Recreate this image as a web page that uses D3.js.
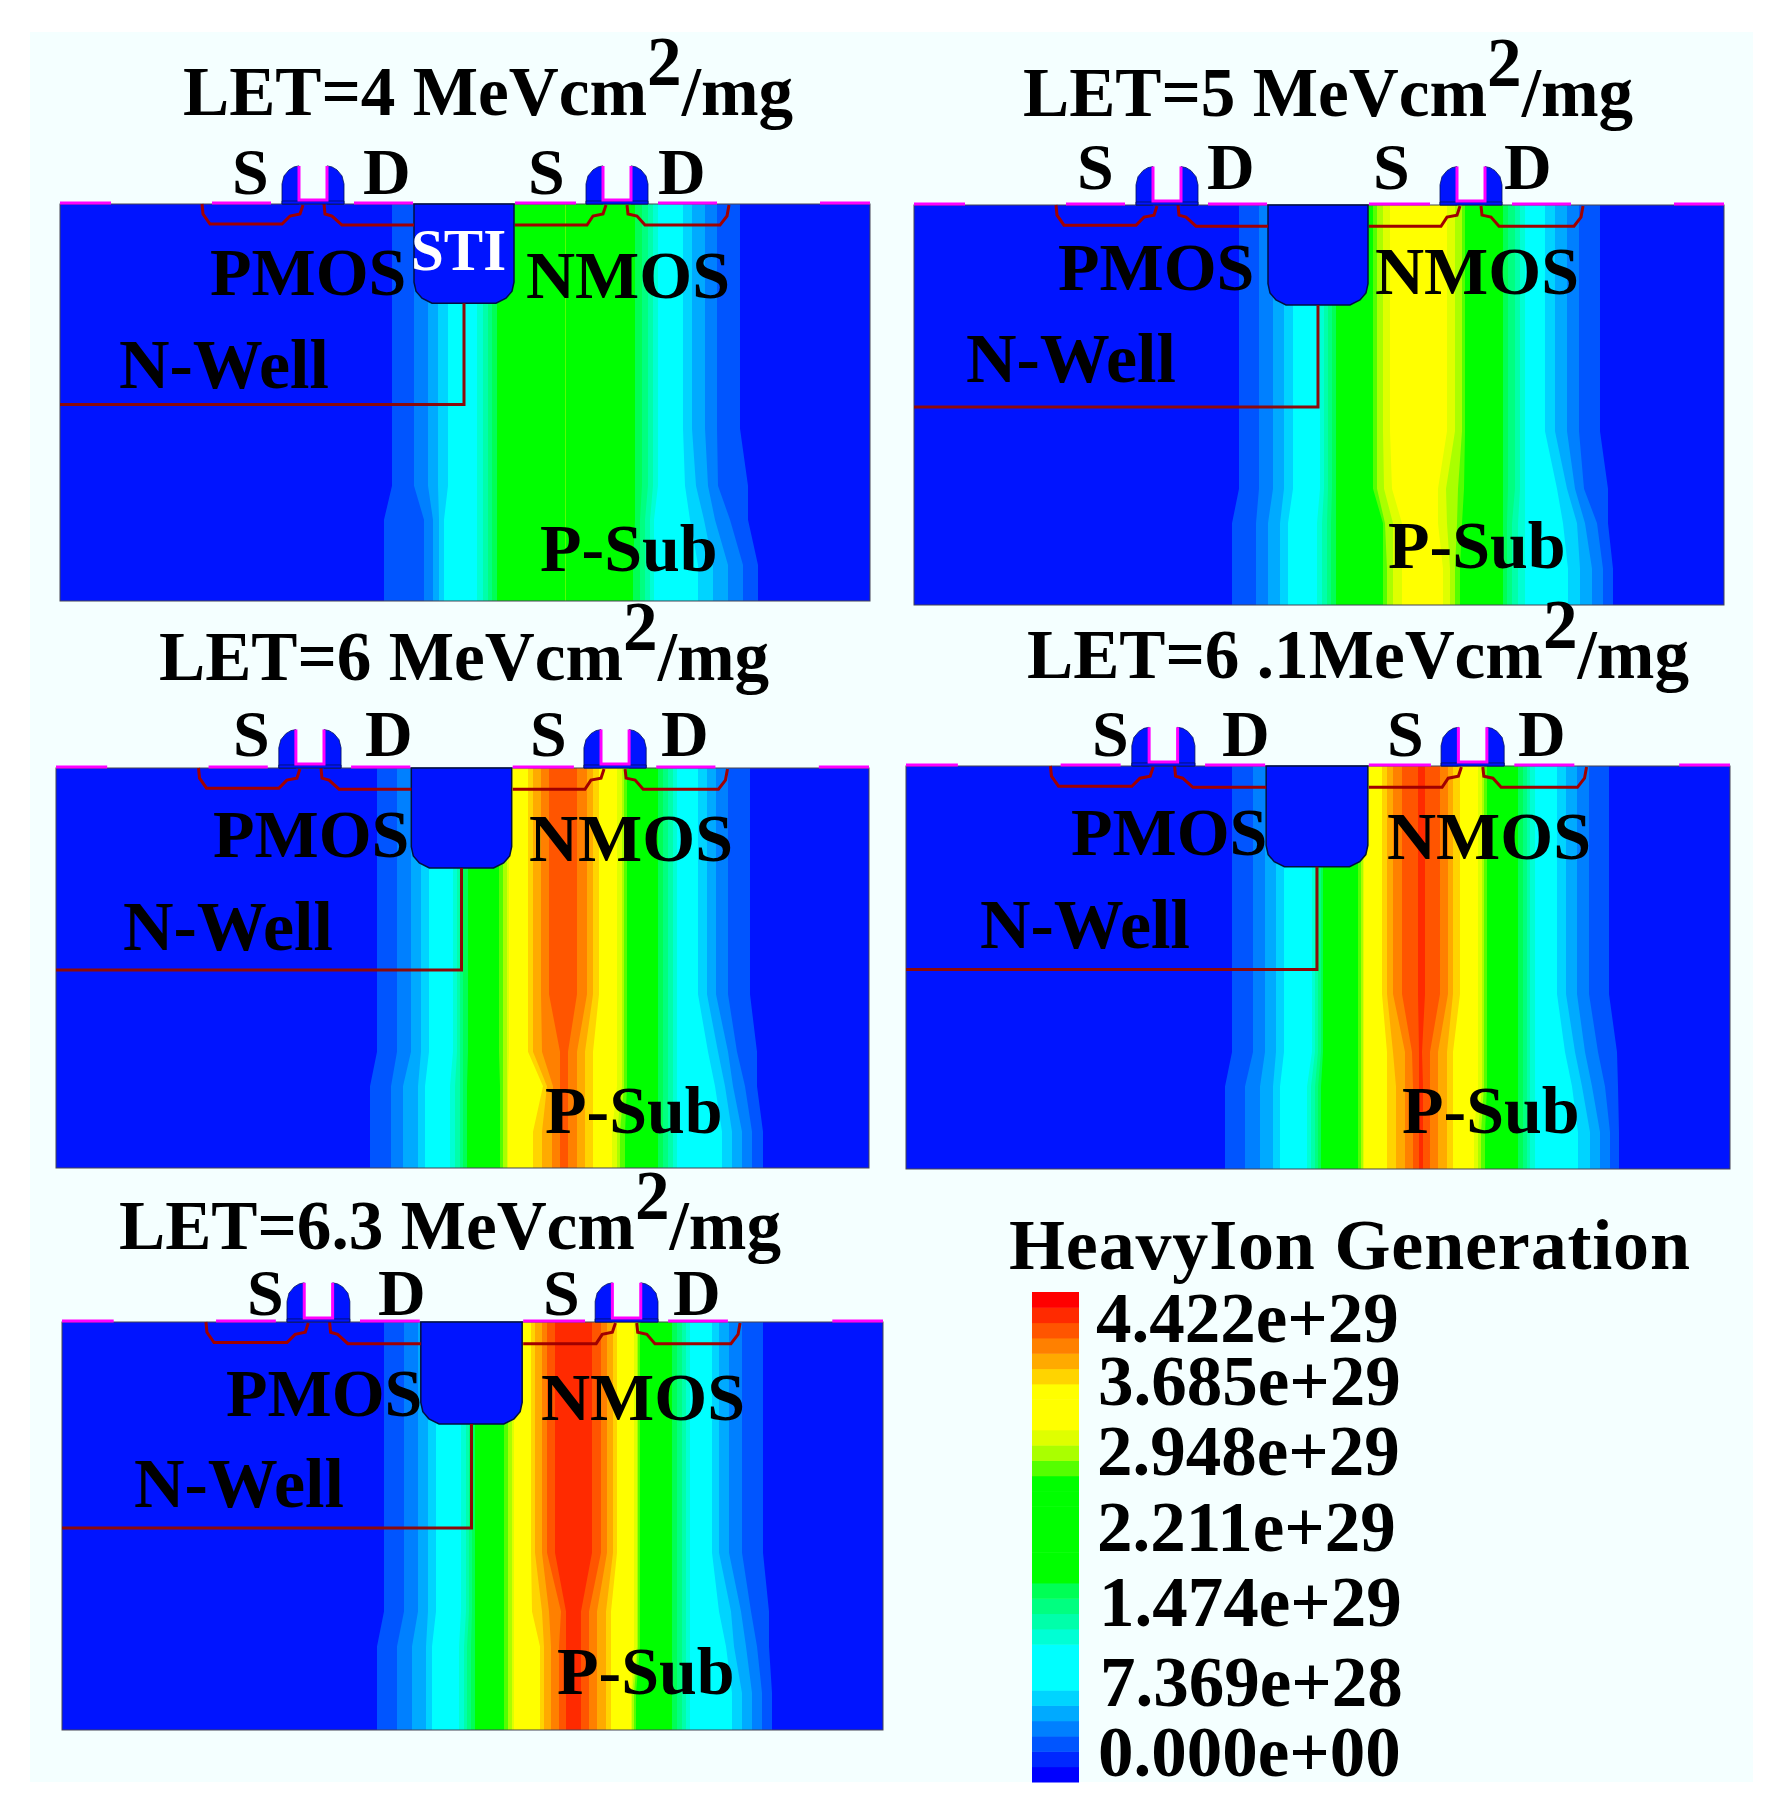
<!DOCTYPE html>
<html>
<head>
<meta charset="utf-8">
<title>HeavyIon Generation</title>
<script src="https://cdn.jsdelivr.net/npm/d3@7"></script>
<style>
    html, body { margin: 0; padding: 0; background: #fff; }
    svg { display: block; }
    text { font-family: "Liberation Serif", serif; font-weight: bold; fill: #000; }
</style>
</head>
<body>
<div id="chart"></div>
<script>
// 32 colour levels of the legend, lowest value first
var levelColors = ["#0000ff", "#0028ff", "#0055ff", "#0080ff", "#00aaff", "#00d4ff",
    "#00ffff", "#00ffff", "#00ffff", "#00ffd4", "#00ffaa", "#00ff80", "#00ff55",
    "#00ff00", "#00ff00", "#00ff00", "#00ff00", "#00ff00", "#00ff00", "#00ff00",
    "#55ff00", "#aaff00", "#dfff00", "#ffff00", "#ffff00", "#ffff00",
    "#ffd400", "#ffaa00", "#ff8000", "#ff5500", "#ff2a00", "#ff0000"];
var baseBlue = "#0014ff";

var tickLabels = ["4.422e+29", "3.685e+29", "2.948e+29", "2.211e+29", "1.474e+29", "7.369e+28", "0.000e+00"];
var legendTitle = "HeavyIon Generation";
var titleLead = ["LET=4 MeVcm", "LET=5 MeVcm", "LET=6 MeVcm", "LET=6 .1MeVcm", "LET=6.3 MeVcm"];

// depth (device units) of the rows where the contour edges were read
var depthKnots = [0, 224, 281, 315, 360, 396];

// contour levels left to right, and their edges along each row (distance from the panel's left side)
var let4Levels = [2, 3, 4, 5, 6, 9, 10, 11, 12, 13, 20, 13, 12, 11, 10, 9, 6, 5, 4, 3, 2];
var let4Mid = [332, 354, 368, 378, 388, 417, 423, 428, 432, 437, 505, 506, 575, 582, 588, 593, 598, 623, 632, 645, 657, 680];
var let4Knee = [332, 354, 368, 378, 388, 417, 423, 428, 432, 437, 505, 506, 575, 582, 588, 593, 598, 625, 636, 648, 658, 688];
var let4Turn = [324, 364, 373, 379, 384, 417, 423, 428, 432, 437, 505, 506, 575, 580, 585, 590, 594, 630, 644, 655, 670, 688];
var let4Low = [324, 364, 373, 379, 384, 417, 423, 428, 432, 437, 505, 506, 573, 580, 585, 590, 594, 638, 653, 668, 683, 698];

var let5Levels = [2, 3, 4, 5, 6, 9, 10, 11, 12, 13, 20, 21, 22, 23, 22, 21, 20, 13, 12, 11, 10, 9, 6, 5, 4, 3, 2];
var let5Mid = [325, 345, 359, 370, 379, 406, 410, 414, 418, 422, 459, 463, 469, 476, 533, 541, 548, 551, 589, 594, 601, 606, 611, 631, 641, 653, 665, 686];
var let5Knee = [325, 345, 359, 370, 379, 406, 410, 414, 418, 422, 459, 463, 470, 478, 524, 532, 544, 550, 589, 594, 601, 606, 611, 643, 653, 661, 670, 694];
var let5Turn = [318, 342, 354, 366, 374, 403, 408, 413, 417, 422, 469, 471, 479, 488, 524, 533, 543, 548, 589, 593, 598, 604, 611, 649, 663, 671, 683, 694];
var let5Low = [318, 342, 354, 366, 374, 403, 408, 413, 417, 422, 469, 473, 479, 488, 529, 536, 541, 546, 589, 593, 598, 604, 611, 654, 666, 678, 689, 699];

var let6Levels = [2, 3, 4, 5, 6, 9, 10, 11, 12, 13, 20, 21, 22, 23, 26, 27, 28, 29, 28, 27, 26, 23, 22, 21, 20, 13, 12, 11, 10, 9, 6, 5, 4, 3, 2];
var let6Mid = [321, 341, 355, 365, 373, 397, 401, 404, 407, 412, 443, 447, 451, 453, 472, 477, 485, 493, 521, 531, 537, 543, 561, 566, 568, 571, 602, 607, 612, 617, 621, 642, 651, 660, 672, 694];
var let6Knee = [321, 341, 355, 365, 373, 397, 401, 404, 407, 412, 443, 447, 451, 453, 472, 477, 486, 504, 512, 521, 529, 537, 561, 566, 568, 571, 602, 607, 612, 617, 621, 652, 662, 672, 681, 701];
var let6Turn = [314, 335, 347, 362, 369, 394, 399, 404, 407, 411, 444, 447, 451, 452, 487, 491, 497, 504, 512, 521, 529, 537, 561, 566, 568, 571, 602, 607, 612, 617, 621, 659, 669, 677, 689, 701];
var let6Low = [314, 335, 347, 362, 369, 394, 399, 404, 407, 411, 444, 447, 451, 452, 477, 486, 496, 504, 512, 521, 529, 537, 556, 561, 564, 569, 602, 607, 612, 617, 621, 666, 676, 686, 696, 707];

var let61Levels = [2, 3, 4, 5, 6, 9, 10, 11, 12, 13, 20, 21, 22, 23, 26, 27, 28, 29, 30, 29, 28, 27, 26, 23, 22, 21, 20, 13, 12, 11, 10, 9, 6, 5, 4, 3, 2];
var let61Mid = [326, 347, 359, 370, 378, 406, 409, 412, 415, 417, 452, 455, 457, 458, 476, 481, 487, 496, 512, 519, 534, 542, 547, 554, 572, 576, 578, 581, 612, 617, 621, 624, 629, 651, 660, 671, 683, 703];
var let61Knee = [326, 347, 359, 370, 378, 406, 409, 412, 415, 417, 452, 455, 457, 458, 481, 487, 499, 506, 513, 516, 524, 532, 541, 547, 572, 576, 578, 581, 612, 617, 621, 624, 629, 659, 669, 679, 692, 711];
var let61Turn = [319, 339, 354, 367, 374, 401, 405, 409, 412, 415, 452, 455, 457, 458, 481, 490, 499, 507, 513, 517, 524, 532, 541, 547, 572, 576, 578, 581, 612, 617, 621, 624, 629, 666, 676, 686, 699, 712];
var let61Low = [319, 339, 354, 367, 374, 401, 405, 409, 412, 415, 452, 455, 457, 458, 481, 490, 499, 507, 513, 517, 524, 532, 541, 547, 568, 572, 575, 579, 612, 617, 621, 624, 629, 672, 684, 694, 704, 713];

var let63Levels = let61Levels;
var let63Mid = [322, 342, 356, 366, 374, 399, 404, 407, 410, 413, 442, 446, 450, 452, 469, 473, 480, 485, 493, 530, 539, 545, 551, 555, 572, 575, 576, 578, 610, 615, 620, 624, 628, 650, 657, 667, 680, 701];
var let63Knee = [322, 342, 356, 366, 374, 399, 404, 407, 410, 413, 442, 446, 450, 452, 470, 480, 487, 499, 504, 519, 527, 535, 544, 549, 572, 575, 576, 578, 610, 615, 620, 624, 628, 657, 669, 679, 689, 707];
var let63Turn = [315, 335, 350, 364, 370, 397, 402, 405, 409, 413, 442, 446, 450, 452, 478, 482, 489, 497, 504, 519, 527, 535, 544, 549, 572, 575, 576, 578, 610, 615, 620, 624, 628, 664, 672, 684, 695, 707];
var let63Low = [315, 335, 350, 364, 370, 397, 402, 405, 409, 413, 442, 446, 450, 452, 478, 482, 489, 497, 504, 519, 527, 535, 544, 549, 569, 570, 572, 574, 610, 615, 620, 624, 628, 670, 680, 690, 700, 710];

var panelLevels = [let4Levels, let5Levels, let6Levels, let61Levels, let63Levels];
var panelRows = [
    [let4Mid, let4Mid, let4Knee, let4Turn, let4Low, let4Low],
    [let5Mid, let5Mid, let5Knee, let5Turn, let5Low, let5Low],
    [let6Mid, let6Mid, let6Knee, let6Turn, let6Low, let6Low],
    [let61Mid, let61Mid, let61Knee, let61Turn, let61Low, let61Low],
    [let63Mid, let63Mid, let63Knee, let63Turn, let63Low, let63Low]
];

// device outline, same for every panel (0..810 wide, 0..396 deep, gates above 0)
var stiOutline = [[354, 0], [354, 78], [356, 87], [362, 94], [372, 99], [436, 99], [446, 94], [452, 87], [454, 78], [454, 0]];
var wellOutline = [[0, 200], [404, 200], [404, 99]];
var junctions = [
    [[142, 0], [143, 10], [150, 20], [222, 20], [230, 12], [240, 10], [243, 1]],
    [[264, 0], [265, 10], [272, 12], [282, 21], [354, 21]],
    [[455, 21], [527, 21], [533, 12], [543, 10], [546, 1]],
    [[567, 1], [568, 10], [577, 12], [585, 21], [660, 21], [667, 12], [669, 1]]
];
var contacts = [[0, 51], [152, 211], [294, 353], [455, 516], [598, 657], [760, 810]];
var gateStarts = [222, 526];

// layout: x0, x1, top, bottom of each panel
var panelBoxes = [[60, 870, 204, 601], [914, 1724, 205, 605], [56, 869, 768, 1168], [906, 1730, 766, 1169], [62, 883, 1322, 1730]];
var titleSpots = [[183, 115], [1023, 116], [159, 680], [1027, 678], [119, 1249]];
var gateLabelX = [[232, 363, 528, 658], [1077, 1207, 1373, 1504], [233, 365, 530, 661], [1092, 1222, 1387, 1518], [247, 378, 543, 673]];
var gateLabelY = [194, 189, 756, 756, 1315];
var pmosSpots = [[210, 295], [1058, 290], [213, 857], [1071, 855], [226, 1416]];
var nmosSpots = [[526, 298], [1375, 294], [529, 861], [1387, 859], [541, 1420]];
var wellSpots = [[119, 388], [966, 382], [123, 950], [980, 948], [134, 1507]];
var subSpots = [[540, 571], [1388, 568], [545, 1133], [1402, 1133], [557, 1694]];
var tickSpots = [[1096, 1342], [1098, 1405], [1097, 1475], [1097, 1551], [1099, 1626], [1100, 1706], [1098, 1776]];

var w = 1781, h = 1817;
var svg = d3.select("#chart").append("svg").attr("width", w).attr("height", h);

svg.append("rect").attr("width", w).attr("height", h).attr("fill", "#fff");
svg.append("rect").attr("x", 30).attr("y", 32).attr("width", 1723).attr("height", 1750).attr("fill", "#f4ffff");

function drawPanel(i) {
    var box = panelBoxes[i];
    var g = svg.append("g");
    var xEdge = d3.scaleLinear().domain([0, box[1] - box[0]]).range([box[0], box[1]]);
    var xDev = d3.scaleLinear().domain([0, 810]).range([box[0], box[1]]);
    var yDev = d3.scaleLinear().domain([0, 396]).range([box[2], box[3]]);
    var line = d3.line().x(function (d) { return xDev(d[0]); }).y(function (d) { return yDev(d[1]); });

    g.append("rect")
        .attr("x", box[0]).attr("y", box[2])
        .attr("width", box[1] - box[0]).attr("height", box[3] - box[2])
        .attr("fill", baseBlue);

    // each band runs to the right side and the next one paints over it, so no seams
    var rows = panelRows[i];
    var bands = panelLevels[i];
    bands.forEach(function (level, k) {
        var area = d3.area()
            .x0(function (d) { return xEdge(rows[d][k]); })
            .x1(function (d) { return box[1]; })
            .y(function (d) { return yDev(depthKnots[d]); });
        g.append("path")
            .attr("d", area(d3.range(depthKnots.length)))
            .attr("fill", levelColors[level]);
    });
    // last edge back to the plain blue
    var tail = d3.area()
        .x0(function (d) { return xEdge(rows[d][bands.length]); })
        .x1(function (d) { return box[1]; })
        .y(function (d) { return yDev(depthKnots[d]); });
    g.append("path").attr("d", tail(d3.range(depthKnots.length))).attr("fill", baseBlue);

    // frame
    g.append("rect")
        .attr("x", box[0]).attr("y", box[2])
        .attr("width", box[1] - box[0]).attr("height", box[3] - box[2])
        .attr("fill", "none").attr("stroke", "#445").attr("stroke-width", 1);

    // STI
    g.append("path")
        .attr("d", line(stiOutline) + "Z")
        .attr("fill", baseBlue).attr("stroke", "#001040").attr("stroke-width", 1.5);

    // N-well and junction lines
    g.append("path")
        .attr("d", line(wellOutline))
        .attr("fill", "none").attr("stroke", "#8b0a0a").attr("stroke-width", 3);
    junctions.forEach(function (pts) {
        g.append("path")
            .attr("d", line(pts))
            .attr("fill", "none").attr("stroke", "#a00000").attr("stroke-width", 3);
    });

    // contacts
    contacts.forEach(function (c) {
        g.append("line")
            .attr("x1", xDev(c[0])).attr("x2", xDev(c[1]))
            .attr("y1", yDev(-1)).attr("y2", yDev(-1))
            .attr("stroke", "#ff00ff").attr("stroke-width", 3);
    });

    // gates: two rounded spacers with the poly gap between them
    gateStarts.forEach(function (x) {
        var leftSpacer = [[x, 0], [x, -20], [x + 2, -28], [x + 7, -34], [x + 12, -37], [x + 17, -38], [x + 17, 0]];
        var rightSpacer = [[x + 62, 0], [x + 62, -20], [x + 60, -28], [x + 55, -34], [x + 50, -37], [x + 45, -38], [x + 45, 0]];
        var strip = [[x, 0], [x, -3], [x + 62, -3], [x + 62, 0]];
        [leftSpacer, rightSpacer, strip].forEach(function (pts) {
            g.append("path").attr("d", line(pts) + "Z")
                .attr("fill", baseBlue).attr("stroke", "#001060").attr("stroke-width", 0.8);
        });
        g.append("path")
            .attr("d", line([[x + 17, -38], [x + 17, -4], [x + 45, -4], [x + 45, -38]]))
            .attr("fill", "none").attr("stroke", "#ff00ff").attr("stroke-width", 3);
    });

    // title with the large superscript
    var title = g.append("text")
        .attr("x", titleSpots[i][0]).attr("y", titleSpots[i][1])
        .attr("font-size", 69.2);
    title.append("tspan").text(titleLead[i]);
    title.append("tspan").attr("dy", -30).text("2");
    title.append("tspan").attr("dy", 30).text("/mg");

    // device labels
    ["S", "D", "S", "D"].forEach(function (s, k) {
        g.append("text").attr("x", gateLabelX[i][k]).attr("y", gateLabelY[i])
            .attr("font-size", 66).text(s);
    });
    g.append("text").attr("x", pmosSpots[i][0]).attr("y", pmosSpots[i][1]).attr("font-size", 68).text("PMOS");
    g.append("text").attr("x", nmosSpots[i][0]).attr("y", nmosSpots[i][1]).attr("font-size", 68).text("NMOS");
    g.append("text").attr("x", wellSpots[i][0]).attr("y", wellSpots[i][1]).attr("font-size", 70).text("N-Well");
    g.append("text").attr("x", subSpots[i][0]).attr("y", subSpots[i][1]).attr("font-size", 68).text("P-Sub");
}

d3.range(panelBoxes.length).forEach(drawPanel);

// only the first panel names the trench
svg.append("text")
    .attr("x", 411).attr("y", 270)
    .attr("font-size", 59)
    .style("fill", "#fff")
    .text("STI");

// legend
var legendY = d3.scaleBand()
    .domain(d3.range(levelColors.length).reverse())
    .range([1292, 1782]);

svg.append("g").selectAll("rect")
    .data(levelColors)
    .enter()
    .append("rect")
    .attr("x", 1032)
    .attr("y", function (d, i) { return legendY(i); })
    .attr("width", 47)
    .attr("height", legendY.bandwidth() + 0.5)
    .attr("fill", function (d) { return d; });

svg.append("text")
    .attr("x", 1009).attr("y", 1269)
    .attr("font-size", 72)
    .attr("textLength", 681)
    .attr("lengthAdjust", "spacing")
    .text(legendTitle);

svg.append("g").selectAll("text")
    .data(tickLabels)
    .enter()
    .append("text")
    .attr("x", function (d, i) { return tickSpots[i][0]; })
    .attr("y", function (d, i) { return tickSpots[i][1]; })
    .attr("font-size", 71)
    .text(function (d) { return d; });
</script>
</body>
</html>
